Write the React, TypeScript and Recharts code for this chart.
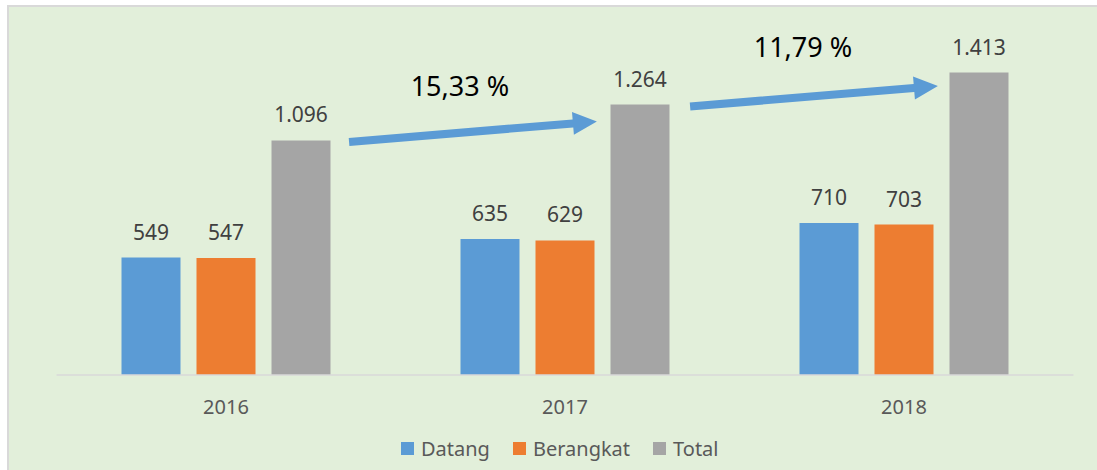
import React from 'react';
import { BarChart, Bar, XAxis, YAxis, Legend, LabelList, ReferenceLine, ReferenceDot } from 'recharts';

const years = ['2016', '2017', '2018'];
const datang = [549, 635, 710];
const berangkat = [547, 629, 703];
const total = [1096, 1264, 1413];
// position of each year on the hidden continuous axis (band centres)
const yearPos = [0.5, 1.5, 2.5];

const seriesNames = ['Datang', 'Berangkat', 'Total'];
const seriesKeys = ['datang', 'berangkat', 'total'];
const seriesColors = ['#5B9BD5', '#ED7D31', '#A5A5A5'];

// growth annotations, placed on a hidden 0..3 numeric x axis and the value y axis
const growthLabels = ['15,33 %', '11,79 %'];
const growthLabelX = [1.19, 2.202];
const growthLabelY = [1305, 1487];
const arrowFromX = [0.863, 1.869];
const arrowFromY = [1089, 1255];
const arrowToX = [1.594, 2.6];
const arrowToY = [1185, 1350];

const data = years.map((y, i) => ({ year: y, pos: yearPos[i], datang: datang[i], berangkat: berangkat[i], total: total[i] }));

const FONT = "'Noto Sans', 'Open Sans', sans-serif";

const fmt = (v: any) => String(v).replace(/\B(?=(\d{3})+(?!\d))/g, '.');

const Arrow = (p: any) => {
  const { x1, y1, x2, y2 } = p;
  const dx = x2 - x1, dy = y2 - y1;
  const len = Math.hypot(dx, dy) || 1;
  const ux = dx / len, uy = dy / len;
  const nx = -uy, ny = ux;
  const headLen = 24, headHalf = 11.5, shaft = 4;
  const bx = x2 - ux * headLen, by = y2 - uy * headLen;
  const pts = [
    [x1 + nx * shaft, y1 + ny * shaft],
    [bx + nx * shaft, by + ny * shaft],
    [bx + nx * headHalf, by + ny * headHalf],
    [x2, y2],
    [bx - nx * headHalf, by - ny * headHalf],
    [bx - nx * shaft, by - ny * shaft],
    [x1 - nx * shaft, y1 - ny * shaft],
  ];
  return <polygon points={pts.map((q) => q.join(',')).join(' ')} fill="#5B9BD5" />;
};

const makeLabelShape = (text: string) => (p: any) => (
  <text x={p.cx} y={p.cy} textAnchor="middle" fontSize={27} fontFamily={FONT} fill="#000000">
    {text}
  </text>
);

const LegendContent = () => (
  <div style={{ display: 'flex', alignItems: 'center', fontFamily: FONT, fontSize: 20, color: '#595959', whiteSpace: 'nowrap' }}>
    {seriesNames.map((n, i) => (
      <div key={n} style={{ display: 'flex', alignItems: 'center', marginLeft: i === 0 ? 0 : 23 }}>
        <span style={{ display: 'inline-block', width: 13, height: 13, background: seriesColors[i], marginRight: 7 }} />
        <span>{n}</span>
      </div>
    ))}
  </div>
);

export default function App() {
  return (
    <div style={{ position: 'absolute', left: 0, top: 0, width: 1097, height: 470, overflow: 'hidden', background: '#ffffff' }}>
      <div
        style={{
          position: 'absolute',
          left: 7,
          top: 5,
          width: 1110,
          height: 490,
          background: '#E2EFDA',
          border: '2px solid #D9D9D9',
          boxSizing: 'border-box',
        }}
      />
      <div style={{ position: 'absolute', left: 0, top: 0 }}>
        <BarChart
          width={1097}
          height={470}
          data={data}
          margin={{ top: 32.6, right: 23.5, bottom: 0, left: 56.5 }}
          barGap={16}
          barSize={59}
          style={{ fontFamily: FONT }}
        >
          <XAxis
            dataKey="year"
            height={95}
            tickLine={false}
            tickSize={0}
            tickMargin={25}
            axisLine={{ stroke: '#D9D9D9', strokeWidth: 1.5 }}
            tick={{ fill: '#595959', fontSize: 20, fontFamily: FONT }}
          />
          <XAxis xAxisId="n" dataKey="pos" type="number" domain={[0, 3]} allowDataOverflow hide />
          <YAxis hide domain={[0, 1600]} allowDataOverflow />
          <Legend
            layout="horizontal"
            verticalAlign="middle"
            align="center"
            content={<LegendContent />}
            wrapperStyle={{ position: 'absolute', top: 435, left: 401, width: 'auto', height: 'auto' }}
          />
          {seriesKeys.map((k, i) => (
            <Bar key={k} dataKey={k} name={seriesNames[i]} fill={seriesColors[i]} isAnimationActive={false}>
              <LabelList
                dataKey={k}
                position="top"
                offset={18}
                formatter={fmt}
                fill="#404040"
                fontSize={21}
                fontFamily={FONT}
              />
            </Bar>
          ))}
          {arrowFromX.map((x, i) => (
            <ReferenceLine
              key={'a' + i}
              xAxisId="n"
              ifOverflow="visible"
              segment={[
                { x, y: arrowFromY[i] },
                { x: arrowToX[i], y: arrowToY[i] },
              ]}
              shape={Arrow}
            />
          ))}
          {growthLabels.map((t, i) => (
            <ReferenceDot
              key={'l' + i}
              xAxisId="n"
              x={growthLabelX[i]}
              y={growthLabelY[i]}
              r={0}
              ifOverflow="visible"
              shape={makeLabelShape(t)}
            />
          ))}
        </BarChart>
      </div>
    </div>
  );
}
